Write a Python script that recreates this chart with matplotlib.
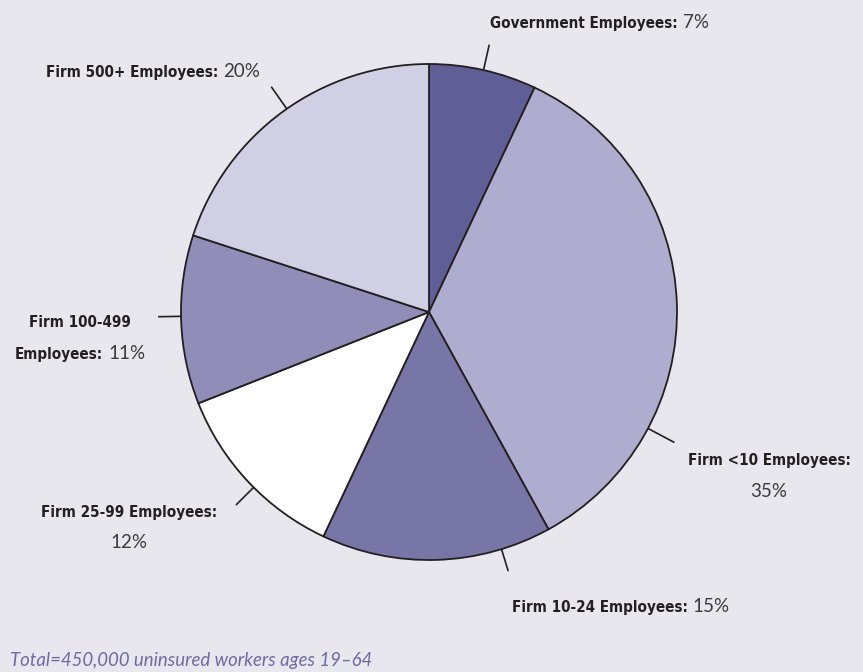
import matplotlib.pyplot as plt
from matplotlib import font_manager as fm
import numpy as np

# share of uninsured workers by employer type
groups = ['Government Employees:', 'Firm <10 Employees:', 'Firm 10-24 Employees:',
          'Firm 25-99 Employees:', 'Firm 100-499 Employees:', 'Firm 500+ Employees:']
shares = [7, 35, 15, 12, 11, 20]
colors = ['#605e97', '#afadcf', '#7876a6', '#ffffff', '#908db8', '#d0cfe3']
note = 'Total=450,000 uninsured workers ages 19\u201364'

W, H = 863, 672
bg = '#e8e7ee'
ink = '#231f20'


# narrowest bold face we can get for the category names
def pick_bold():
    tries = [dict(family='Liberation Sans Narrow', weight='bold'),
             dict(family='DejaVu Sans', weight='bold', stretch='condensed'),
             dict(family='Lato', weight='bold')]
    for props in tries:
        fp = fm.FontProperties(**props)
        try:
            path = fm.findfont(fp, fallback_to_default=False)
        except Exception:
            continue
        name = path.lower()
        if 'stretch' in props and 'condensed' not in name:
            continue
        if props['family'] == 'Liberation Sans Narrow' and 'narrow' not in name:
            continue
        return props
    return dict(family='DejaVu Sans', weight='bold')


bold_props = pick_bold()

fig = plt.figure(figsize=(W / 100, H / 100), dpi=100, facecolor=bg)
ax = fig.add_axes([0, 0, 1, 1])
ax.set_facecolor(bg)
renderer = fig.canvas.get_renderer()

# size the bold face so the longest top label runs about 187 px
probe = ax.text(0, 0, groups[0], fontsize=10, **bold_props)
bold_size = min(15.0, 10 * 187 / probe.get_window_extent(renderer).width)
probe.remove()

bold_font = dict(fontsize=bold_size, color=ink, **bold_props)
plain_font = dict(family=['Lato', 'DejaVu Sans'], fontsize=13.5, color='#3a3a3a')

cx, cy, R = 429, H - 312, 248
ax.pie(shares, colors=colors, startangle=90, counterclock=False,
       center=(cx, cy), radius=R,
       wedgeprops=dict(edgecolor=ink, linewidth=1.3))
ax.set_xlim(0, W)
ax.set_ylim(0, H)
ax.set_aspect('equal')
ax.axis('off')

# leader ticks: angle clockwise from 12 o'clock, length past the rim
ticks = [(12.7, 26), (118, 30), (163, 23), (225, 25), (269, 23), (325, 27)]
for ang, ln in ticks:
    a = np.radians(ang)
    dx, dy = np.sin(a), np.cos(a)
    ax.plot([cx + R * dx, cx + (R + ln) * dx], [cy + R * dy, cy + (R + ln) * dy],
            color=ink, lw=1.2, solid_capstyle='butt')


def pair(x, y, bold, plain, ha='left', gap=5):
    t1 = ax.text(x, H - y, bold, va='baseline', **bold_font)
    t2 = ax.text(x, H - y, plain, va='baseline', **plain_font)
    w1 = t1.get_window_extent(renderer).width
    w2 = t2.get_window_extent(renderer).width if plain else 0
    left = x if ha == 'left' else x - (w1 + (gap + w2 if plain else 0)) / 2
    t1.set_x(left)
    t2.set_x(left + w1 + gap)


pct = [f'{v}%' for v in shares]

pair(490, 28, groups[0], pct[0])
pair(769, 465, groups[1], '', ha='center')
ax.text(769, H - 497, pct[1], ha='center', va='baseline', **plain_font)
pair(512, 612, groups[2], pct[2])
pair(129, 517, groups[3], '', ha='center')
ax.text(129, H - 548, pct[3], ha='center', va='baseline', **plain_font)
first, second = groups[4].split(' Employees')
pair(80, 327, first, '', ha='center')
pair(80, 359, 'Employees' + second, pct[4], ha='center')
pair(46, 77, groups[5], pct[5])

ax.text(10, H - 666, note, ha='left', va='baseline', style='italic',
        family=['Lato', 'DejaVu Sans'], fontsize=13.4, color='#6d6ba5')

fig.savefig('out.png', dpi=100, facecolor=bg)
